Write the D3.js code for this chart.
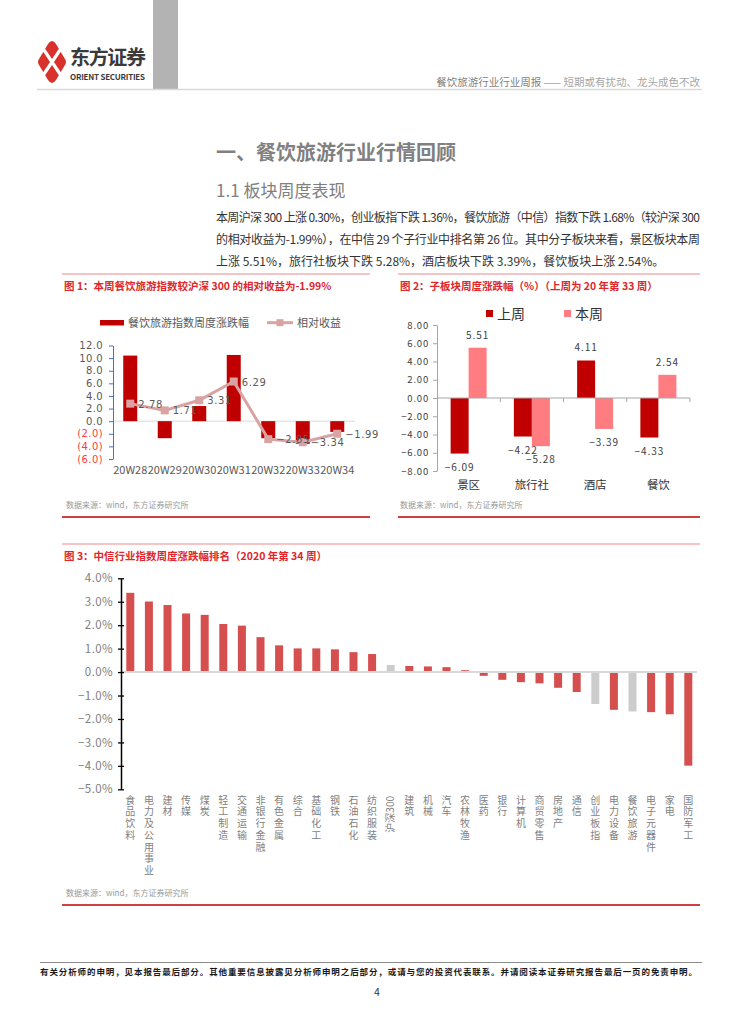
<!DOCTYPE html>
<html>
<head>
<meta charset="utf-8">
<script src="https://cdn.jsdelivr.net/npm/d3@7"></script>
<style>
  body { margin: 0; background: #fff; }
  svg text { font-family: "Noto Sans CJK SC", "Noto Sans", sans-serif; }
  svg text.num { font-family: "DejaVu Sans", sans-serif; }
  .vlabel { writing-mode: vertical-rl; }
</style>
</head>
<body>
<div id="page"></div>
<script>
// chart 1 data
const weeks = ['20W28', '20W29', '20W30', '20W31', '20W32', '20W33', '20W34'];
const weeklyChange = [10.4, -2.7, 2.4, 10.5, -2.7, -3.6, -1.7];
const relReturn = [2.78, 1.71, 3.31, 6.29, -2.85, -3.34, -1.99];
const ticks1 = [12, 10, 8, 6, 4, 2, 0, -2, -4, -6];

// chart 2 data
const subSectors = ['景区', '旅行社', '酒店', '餐饮'];
const lastWeek = [-6.09, -4.22, 4.11, -4.33];
const thisWeek = [5.51, -5.28, -3.39, 2.54];
const ticks2 = [8, 6, 4, 2, 0, -2, -4, -6, -8];

// chart 3 data
const industries = ['食品饮料', '电力及公用事业', '建材', '传媒', '煤炭', '轻工制造', '交通运输', '非银行金融',
  '有色金属', '综合', '基础化工', '钢铁', '石油石化', '纺织服装', '沪深300', '建筑', '机械', '汽车', '农林牧渔',
  '医药', '银行', '计算机', '商贸零售', '房地产', '通信', '创业板指', '电力设备', '餐饮旅游', '电子元器件', '家电', '国防军工'];
const industryChange = [3.38, 3.01, 2.86, 2.50, 2.44, 2.05, 1.98, 1.49, 1.14, 1.01, 1.01, 0.97, 0.85, 0.77, 0.30,
  0.26, 0.24, 0.21, 0.08, -0.16, -0.33, -0.43, -0.48, -0.67, -0.85, -1.36, -1.61, -1.68, -1.71, -1.80, -3.99];
const benchmarks = ['沪深300', '创业板指', '餐饮旅游'];
const ticks3 = [4, 3, 2, 1, 0, -1, -2, -3, -4, -5];

const svg = d3.select('#page').append('svg')
  .attr('width', 754).attr('height', 1024);

function txt(x, y, s, size, fill, opts = {}) {
  const t = svg.append('text').attr('x', x).attr('y', y)
    .attr('font-size', size).attr('fill', fill).text(s);
  if (opts.weight) t.attr('font-weight', opts.weight);
  if (opts.anchor) t.attr('text-anchor', opts.anchor);
  if (opts.len) t.attr('textLength', opts.len).attr('lengthAdjust', 'spacing');
  return t;
}
function line(x1, y1, x2, y2, stroke, w) {
  svg.append('line').attr('x1', x1).attr('y1', y1).attr('x2', x2).attr('y2', y2)
    .attr('stroke', stroke).attr('stroke-width', w);
}

// ---------- header ----------
svg.append('path')
  .attr('d', 'M52,41 Q54,41 56,44 L65,59 Q67,62 65,65 L56,80 Q54,83 52,83 Q50,83 48,80 L39,65 Q37,62 39,59 L48,44 Q50,41 52,41 Z')
  .attr('fill', '#d9312c');
svg.append('path').attr('d', 'M44,50 L60,74 M60,50 L44,74')
  .attr('stroke', '#fff').attr('stroke-width', 3.2).attr('stroke-linecap', 'round');
txt(70, 65, '东方证券', 20, '#3a3a3a', { weight: 'bold', len: 76 });
txt(70, 80, 'ORIENT SECURITIES', 8, '#3a3a3a', { weight: 'bold', len: 75 });
svg.append('rect').attr('x', 153).attr('y', 0).attr('width', 25).attr('height', 89).attr('fill', '#b3b3b3');
line(37, 89.5, 702, 89.5, '#d9d9d9', 1.5);
const hd = txt(700, 86, '', 10.5, '#7f7f7f', { anchor: 'end' });
hd.append('tspan').text('餐饮旅游行业行业周报 ');
hd.append('tspan').attr('fill', '#a6a6a6').text('—— 短期或有扰动、龙头成色不改');

// ---------- section text ----------
txt(216, 160, '一、餐饮旅游行业行情回顾', 20, '#808080', { weight: 'bold' });
txt(216, 197, '1.1 板块周度表现', 17, '#808080');
txt(216, 222, '本周沪深 300 上涨 0.30%，创业板指下跌 1.36%，餐饮旅游（中信）指数下跌 1.68%（较沪深 300', 12, '#333', { len: 484 });
txt(216, 244, '的相对收益为-1.99%），在中信 29 个子行业中排名第 26 位。其中分子板块来看，景区板块本周', 12, '#333', { len: 484 });
txt(216, 266, '上涨 5.51%，旅行社板块下跌 5.28%，酒店板块下跌 3.39%，餐饮板块上涨 2.54%。', 12, '#333');

// ---------- frames ----------
line(62, 274, 370, 274, '#ee8a8a', 1.2);
line(398, 274, 700, 274, '#ee8a8a', 1.2);
txt(64, 290, '图 1：本周餐饮旅游指数较沪深 300 的相对收益为-1.99%', 10.5, '#e0262b', { weight: 'bold' });
txt(400, 290, '图 2：子板块周度涨跌幅（%）（上周为 20 年第 33 周）', 10.5, '#e0262b', { weight: 'bold' });
txt(66, 508, '数据来源：wind，东方证券研究所', 8, '#999');
txt(400, 508, '数据来源：wind，东方证券研究所', 8, '#999');
line(62, 517, 370, 517, '#c00000', 1.3);
line(398, 517, 700, 517, '#c00000', 1.3);

line(62, 544, 700, 544, '#ee8a8a', 1.2);
txt(64, 560, '图 3：中信行业指数周度涨跌幅排名（2020 年第 34 周）', 10.5, '#e0262b', { weight: 'bold' });
txt(66, 896, '数据来源：wind，东方证券研究所', 8, '#999');
line(62, 905, 700, 905, '#c00000', 1.3);

// ---------- chart 1 ----------
const x1 = d3.scaleBand().domain(weeks).range([113, 354.5]);
const y1 = d3.scaleLinear().domain([-6, 12]).range([459, 345.5]);
const g1 = svg.append('g');
const cx1 = w => x1(w) + x1.bandwidth() / 2;

svg.append('rect').attr('x', 100).attr('y', 320).attr('width', 24).attr('height', 5.5).attr('fill', '#c00000');
txt(128, 327, '餐饮旅游指数周度涨跌幅', 11, '#595959');
line(267, 322.7, 293, 322.7, '#d9a3a3', 3);
svg.append('rect').attr('x', 276.5).attr('y', 319.2).attr('width', 7).attr('height', 7).attr('fill', '#d9a3a3');
txt(297, 327, '相对收益', 11, '#595959');

g1.append('line').attr('x1', 113).attr('x2', 355).attr('y1', y1(0)).attr('y2', y1(0))
  .attr('stroke', '#d9d9d9').attr('stroke-width', 1);

g1.selectAll('.bar1').data(weeklyChange).enter().append('rect')
  .attr('x', (d, i) => cx1(weeks[i]) - 7)
  .attr('width', 14)
  .attr('y', d => y1(Math.max(0, d)))
  .attr('height', d => Math.abs(y1(d) - y1(0)))
  .attr('fill', '#c00000');

g1.append('path')
  .attr('d', d3.line().x((d, i) => cx1(weeks[i])).y(d => y1(d))(relReturn))
  .attr('fill', 'none').attr('stroke', '#d9a3a3').attr('stroke-width', 3);
g1.selectAll('.mk').data(relReturn).enter().append('rect')
  .attr('x', (d, i) => cx1(weeks[i]) - 4).attr('y', d => y1(d) - 4)
  .attr('width', 8).attr('height', 8).attr('fill', '#d9a3a3');
g1.selectAll('.lb').data(relReturn).enter().append('text')
  .attr('class', 'num')
  .attr('x', (d, i) => cx1(weeks[i]) + 8).attr('y', d => y1(d) + 4)
  .attr('font-size', 10).attr('fill', '#595959').attr('letter-spacing', 0.6)
  .text(d => d < 0 ? '−' + Math.abs(d).toFixed(2) : d.toFixed(2));

const ax1 = g1.append('g').attr('transform', 'translate(113,0)')
  .call(d3.axisLeft(y1).tickValues(ticks1).tickSize(4).tickSizeOuter(0).tickPadding(6)
    .tickFormat(d => d < 0 ? '(' + Math.abs(d).toFixed(1) + ')' : d.toFixed(1)));
ax1.select('.domain').attr('stroke', '#4472c4');
ax1.selectAll('.tick line').attr('stroke', '#4472c4');
ax1.selectAll('.tick text').attr('class', 'num').attr('font-size', 10).attr('letter-spacing', 0.4)
  .attr('fill', d => d < 0 ? '#ff3b3b' : '#595959');

g1.selectAll('.xl').data(weeks).enter().append('text')
  .attr('x', d => cx1(d)).attr('y', 474).attr('text-anchor', 'middle')
  .attr('font-size', 11).attr('fill', '#595959').attr('textLength', 34).attr('lengthAdjust', 'spacingAndGlyphs')
  .text(d => d);

// ---------- chart 2 ----------
const x2 = d3.scaleBand().domain(subSectors).range([437, 690]);
const y2 = d3.scaleLinear().domain([-8, 8]).range([471, 325]);
const g2 = svg.append('g');
const bw2 = 18;

svg.append('rect').attr('x', 486).attr('y', 310).attr('width', 7).attr('height', 7).attr('fill', '#c00000');
txt(497, 319, '上周', 14, '#333');
svg.append('rect').attr('x', 564).attr('y', 310).attr('width', 7).attr('height', 7).attr('fill', '#ff7c80');
txt(575, 319, '本周', 14, '#333');

const series2 = [
  { vals: lastWeek, off: -bw2, color: '#c00000' },
  { vals: thisWeek, off: 0, color: '#ff7c80' }
];
series2.forEach(s => {
  g2.selectAll(null).data(s.vals).enter().append('rect')
    .attr('x', (d, i) => x2(subSectors[i]) + x2.bandwidth() / 2 + s.off)
    .attr('width', bw2)
    .attr('y', d => y2(Math.max(0, d)))
    .attr('height', d => Math.abs(y2(d) - y2(0)))
    .attr('fill', s.color);
  g2.selectAll(null).data(s.vals).enter().append('text')
    .attr('x', (d, i) => x2(subSectors[i]) + x2.bandwidth() / 2 + s.off + bw2 / 2)
    .attr('y', d => d >= 0 ? y2(d) - 9 : y2(d) + 17)
    .attr('text-anchor', 'middle').attr('font-size', 10).attr('fill', '#404040')
    .attr('letter-spacing', 1)
    .text(d => d < 0 ? '−' + Math.abs(d).toFixed(2) : d.toFixed(2));
});

g2.append('line').attr('x1', 437).attr('x2', 690).attr('y1', y2(0)).attr('y2', y2(0))
  .attr('stroke', '#a6a6a6').attr('stroke-width', 1);
g2.selectAll('.bt').data(subSectors).enter().append('line')
  .attr('x1', d => x2(d) + x2.bandwidth()).attr('x2', d => x2(d) + x2.bandwidth())
  .attr('y1', y2(0)).attr('y2', y2(0) + 4).attr('stroke', '#a6a6a6');

const ax2 = g2.append('g').attr('transform', 'translate(437,0)')
  .call(d3.axisLeft(y2).tickValues(ticks2).tickSize(4).tickSizeOuter(0).tickPadding(4)
    .tickFormat(d => d < 0 ? '−' + Math.abs(d).toFixed(2) : d.toFixed(2)));
ax2.select('.domain').attr('stroke', '#a6a6a6');
ax2.selectAll('.tick line').attr('stroke', '#a6a6a6');
ax2.selectAll('.tick text').attr('font-size', 9.5).attr('fill', '#404040').attr('letter-spacing', 0.8);

g2.selectAll('.xl2').data(subSectors).enter().append('text')
  .attr('x', d => x2(d) + x2.bandwidth() / 2).attr('y', 489).attr('text-anchor', 'middle')
  .attr('font-size', 11.5).attr('fill', '#333').text(d => d);

// ---------- chart 3 ----------
const x3 = d3.scaleBand().domain(industries).range([121, 697.6]);
const y3 = d3.scaleLinear().domain([-5, 4]).range([789.3, 578.3]);
const g3 = svg.append('g');

g3.selectAll('.bar3').data(industryChange).enter().append('rect')
  .attr('x', (d, i) => x3(industries[i]) + x3.bandwidth() / 2 - 4)
  .attr('width', 8)
  .attr('y', d => y3(Math.max(0, d)))
  .attr('height', d => Math.abs(y3(d) - y3(0)))
  .attr('fill', (d, i) => benchmarks.includes(industries[i]) ? '#cccccc' : '#d64f4f');

g3.append('line').attr('x1', 121).attr('x2', 697).attr('y1', y3(0)).attr('y2', y3(0))
  .attr('stroke', '#d9d9d9').attr('stroke-width', 2);

const ax3 = g3.append('g').attr('transform', 'translate(121,0)')
  .call(d3.axisLeft(y3).tickValues(ticks3).tickSize(0).tickPadding(8)
    .tickFormat(d => (d < 0 ? '−' + Math.abs(d).toFixed(1) : d.toFixed(1)) + '%'));
ax3.select('.domain').attr('stroke', '#000').attr('stroke-width', 1.5);
ax3.selectAll('.tick').append('line').attr('x1', -3).attr('x2', 3).attr('stroke', '#000').attr('stroke-width', 1.3);
ax3.selectAll('.tick text').attr('font-size', 11.5).attr('fill', '#808080').attr('letter-spacing', 0.4);

// category labels: vertical text, the label with digits is rotated as a whole
g3.selectAll('.xl3').data(industries).enter().append('text')
  .attr('class', d => /\d/.test(d) ? 'xl3' : 'xl3 vlabel')
  .attr('font-size', 10).attr('fill', '#7f7f7f')
  .each(function (d) {
    const cx = x3(d) + x3.bandwidth() / 2;
    const t = d3.select(this);
    if (/\d/.test(d)) {
      t.attr('transform', `translate(${cx + 3.5},796) rotate(-90)`).attr('text-anchor', 'end');
    } else {
      t.attr('x', cx).attr('y', 795).attr('letter-spacing', 1.7);
    }
  })
  .text(d => d);

// ---------- footer ----------
line(40, 962.5, 702, 962.5, '#8c8c8c', 1.2);
txt(40, 975, '有关分析师的申明，见本报告最后部分。其他重要信息披露见分析师申明之后部分，或请与您的投资代表联系。并请阅读本证券研究报告最后一页的免责申明。',
  8.5, '#1a1a1a', { weight: 'bold', len: 657 });
txt(377, 996, '4', 10.5, '#333', { anchor: 'middle' });
</script>
</body>
</html>
